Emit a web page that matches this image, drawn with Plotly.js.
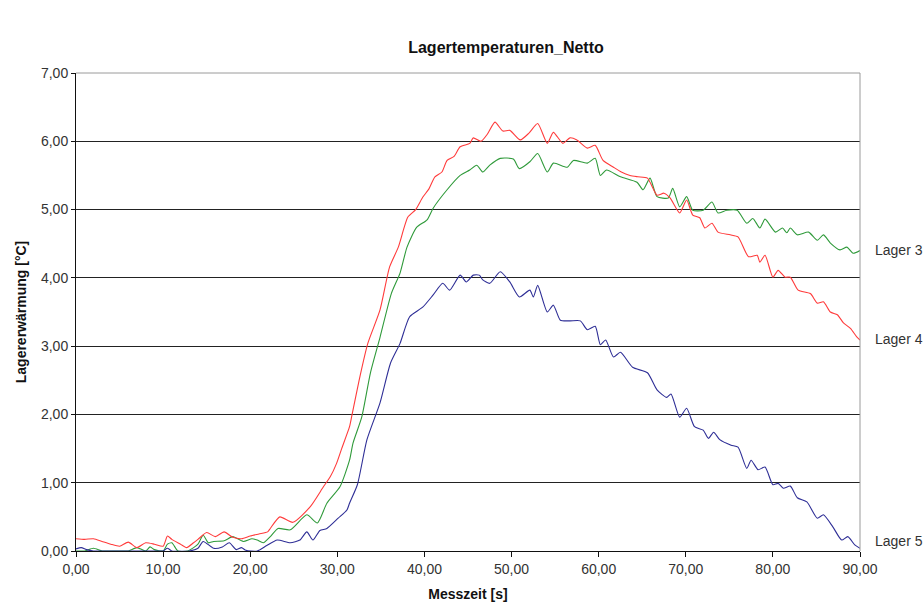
<!DOCTYPE html>
<html>
<head>
<meta charset="utf-8">
<script src="https://cdn.plot.ly/plotly-3.0.1.min.js"></script>
<style>html,body{margin:0;padding:0;background:#fff;}#chart{width:923px;height:608px;}</style>
</head>
<body>
<div id="chart"></div>
<script>
// Lager 4 (red)
const tLager4 = [0,1,2,3,4,5,6,7,8,9,10,10.5,11,12,12.7,13.5,14,15,16,17,18,19,20,21,22,22.3,23.4,24.9,26.9,28.4,29.2,29.9,30.5,31.4,31.65,32.5,33.5,34.9,36.0,37,38.1,39.0,39.8,40.5,41.2,42.0,42.6,43.4,44.1,45.2,45.6,46.5,47.2,48.1,49.0,49.8,51,52,53,54.1,54.8,55.9,56.7,57.5,58.7,59.6,60.5,61.7,62.6,63.6,64.5,65.6,66.7,67.5,68.2,69.3,70.1,70.8,71.6,72.2,73.0,73.7,75.1,76.0,77.2,78.2,78.5,79.1,80.0,80.6,81.4,82.0,82.9,84.3,85.1,85.8,86.6,87.4,88.1,88.9,89.6,90];
const vLager4 = [0.18,0.17,0.18,0.14,0.10,0.07,0.13,0.05,0.12,0.10,0.07,0.22,0.17,0.10,0.05,0.12,0.17,0.27,0.21,0.28,0.20,0.18,0.22,0.25,0.28,0.33,0.50,0.42,0.65,0.94,1.09,1.28,1.50,1.82,1.97,2.5,3.04,3.53,4.16,4.45,4.89,5.0,5.18,5.30,5.48,5.55,5.72,5.78,5.92,5.97,6.05,6.00,6.10,6.28,6.15,6.16,6.02,6.12,6.26,5.97,6.13,5.97,6.05,6.02,5.90,5.94,5.72,5.62,5.55,5.50,5.48,5.46,5.21,5.24,5.17,4.95,5.14,4.92,4.88,4.73,4.80,4.67,4.63,4.60,4.31,4.33,4.23,4.33,4.01,4.11,4.01,4.01,3.82,3.77,3.63,3.65,3.50,3.46,3.34,3.26,3.14,3.09];

// Lager 3 (green)
const tLager3 = [0,1,2,3,4,5,6,7,8,8.5,9,10,10.5,11,11.7,12.8,13.5,14,14.6,15.2,15.8,17,18,19.2,20.2,20.8,21.5,22.3,23.2,24.6,26.5,27.7,28.8,30.3,31.4,31.8,32.8,33.8,34.9,36.2,37.2,38.0,39.1,40.3,41.0,42.6,44.1,45.2,46,46.7,47.5,48.7,50.2,50.9,52.1,53.0,54.1,54.8,56.4,57.1,58.7,59.6,60.2,60.9,62.5,64.4,65.1,65.9,66.7,68.0,68.5,69.3,70.1,70.8,72.0,73.0,73.7,74.7,75.9,77.0,77.7,78.5,79.1,80.3,81.1,81.6,82.0,82.8,84.1,85.1,85.8,86.6,87.7,88.5,89.2,90];
const vLager3 = [0.0,0.0,0.04,0.0,0.0,0.0,0.0,0.05,0.0,0.06,0.02,0.0,0.10,0.12,0.0,0.0,0.05,0.10,0.23,0.12,0.14,0.15,0.21,0.14,0.18,0.16,0.12,0.21,0.33,0.31,0.53,0.41,0.70,0.94,1.33,1.58,1.96,2.61,3.13,3.77,4.07,4.45,4.74,4.85,5.02,5.29,5.50,5.58,5.65,5.55,5.65,5.75,5.74,5.60,5.70,5.82,5.55,5.68,5.62,5.72,5.68,5.75,5.50,5.58,5.48,5.40,5.29,5.46,5.19,5.17,5.31,5.04,5.19,4.99,4.99,5.11,4.95,4.99,4.99,4.80,4.87,4.73,4.86,4.67,4.73,4.66,4.73,4.63,4.67,4.55,4.63,4.51,4.41,4.45,4.36,4.40];

// Lager 5 (blue)
const tLager5 = [0,0.6,1.2,2,3,4,5,6,7,8,9,10,10.5,11,13,14,14.6,15.8,16.8,17.6,18.4,19,19.5,20.8,21.9,23.1,24.6,25.7,26.5,27.2,28.0,28.8,30.1,31.1,31.4,32.3,33.4,34.9,36.1,37.2,38.3,39.8,41.0,42.1,42.9,44.1,44.8,45.6,46.3,46.7,47.5,48.7,49.8,50.9,52.1,52.5,53.0,54.1,54.8,55.6,56.7,57.9,58.7,59.6,60.2,60.8,61.7,62.5,63.9,65.6,66.7,67.8,68.3,69.3,70.1,71.0,72.0,72.6,73.2,73.9,75.2,76.0,77.0,77.5,78.3,79.1,80.0,80.6,81.2,82.0,82.8,83.9,85.1,85.8,86.9,87.9,88.6,89.4,90];
const vLager5 = [0.03,0.05,0.02,0.0,0.0,0.0,0.0,0.0,0.0,0.0,0.0,0.0,0.04,0.0,0.0,0.04,0.14,0.04,0.06,0.12,0.02,0.05,0.01,0.0,0.08,0.16,0.12,0.16,0.28,0.16,0.30,0.33,0.48,0.60,0.70,0.97,1.63,2.17,2.75,3.04,3.43,3.57,3.75,3.92,3.82,4.04,3.94,4.04,4.04,3.97,3.92,4.09,3.94,3.72,3.82,3.72,3.89,3.50,3.60,3.38,3.37,3.37,3.24,3.29,3.02,3.09,2.84,2.91,2.69,2.61,2.36,2.25,2.30,1.96,2.09,1.82,1.77,1.65,1.74,1.63,1.55,1.52,1.21,1.33,1.19,1.23,0.97,0.99,0.92,0.95,0.78,0.72,0.48,0.53,0.35,0.16,0.21,0.09,0.04];

const seriesNames = ["Lager 3", "Lager 4", "Lager 5"];
const yTicks = [0,1,2,3,4,5,6,7];
const xTicks = [0,10,20,30,40,50,60,70,80,90];

const colors = {"Lager 3": "#2f9a3a", "Lager 4": "#ff3b3b", "Lager 5": "#2e2e96"};
const data = [
  {x: tLager3, y: vLager3, name: seriesNames[0]},
  {x: tLager4, y: vLager4, name: seriesNames[1]},
  {x: tLager5, y: vLager5, name: seriesNames[2]}
];
const traces = data.map(d => ({
  x: d.x, y: d.y, name: d.name, type: 'scatter', mode: 'lines',
  line: {color: colors[d.name], width: 1.1, shape: 'spline', smoothing: 0.6},
  cliponaxis: true, hoverinfo: 'x+y+name'
}));

const fam = 'Liberation Sans, Arial, sans-serif';
const annotations = data.map(d => ({
  xref: 'paper', yref: 'y', x: 1.0166, y: d.y[d.y.length - 1],
  yshift: d.name === 'Lager 5' ? 7 : 1,
  text: d.name, showarrow: false, xanchor: 'left', yanchor: 'middle',
  font: {family: fam, size: 14, color: '#333'}
}));

const layout = {
  width: 923, height: 608,
  margin: {l: 76, r: 63, t: 73, b: 57},
  paper_bgcolor: '#fff', plot_bgcolor: '#fff',
  showlegend: false,
  separators: ',.',
  font: {family: fam, size: 14, color: '#333'},
  title: {text: '<b>Lagertemperaturen_Netto</b>', x: 506/923, xref: 'container', xanchor: 'center',
          y: 1 - 47/608, yref: 'container', yanchor: 'middle',
          font: {family: fam, size: 16, color: '#111'}},
  xaxis: {
    range: [0, 90], tickvals: xTicks, tickformat: '.2f',
    showline: true, linecolor: '#111', linewidth: 1,
    ticks: 'outside', ticklen: 5, tickcolor: '#111',
    showgrid: false, zeroline: false, automargin: false,
    tickfont: {family: fam, size: 14, color: '#333'},
    title: {text: '<b>Messzeit [s]</b>', standoff: 13, font: {family: fam, size: 14, color: '#111'}}
  },
  yaxis: {
    range: [0, 7], tickvals: yTicks, tickformat: '.2f',
    showline: true, linecolor: '#111', linewidth: 1,
    ticks: 'outside', ticklen: 4, tickcolor: '#111',
    showgrid: true, gridcolor: '#222', gridwidth: 1, zeroline: false, automargin: false,
    tickfont: {family: fam, size: 14, color: '#333'},
    title: {text: '<b>Lagererwärmung [°C]</b>', standoff: 11, font: {family: fam, size: 14, color: '#111'}}
  },
  shapes: [
    {type: 'line', xref: 'paper', yref: 'paper', x0: 0, x1: 1, y0: 1, y1: 1, line: {color: '#9a9a9a', width: 1}, layer: 'above'},
    {type: 'line', xref: 'paper', yref: 'paper', x0: 1, x1: 1, y0: 0, y1: 1, line: {color: '#9a9a9a', width: 1}, layer: 'above'}
  ],
  annotations: annotations
};

Plotly.newPlot('chart', traces, layout, {displayModeBar: false, staticPlot: true});
</script>
</body>
</html>
